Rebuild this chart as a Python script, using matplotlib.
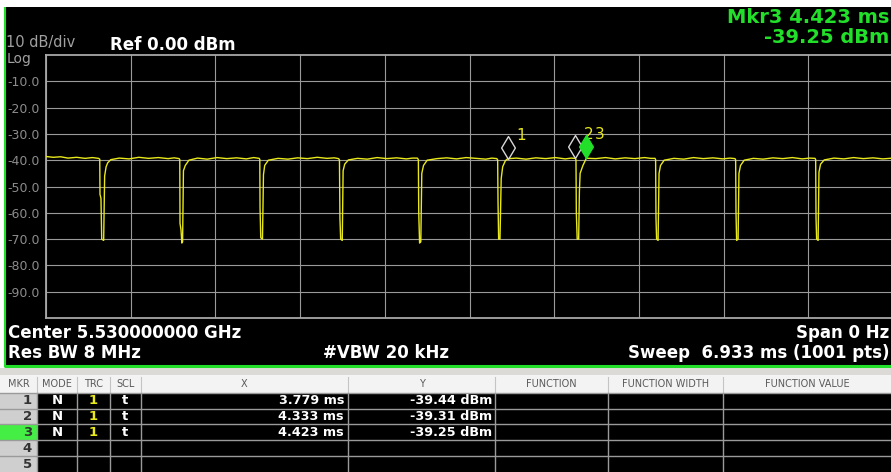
import matplotlib.pyplot as plt
from matplotlib.path import Path
import numpy as np

plt.rcParams["font.family"] = "DejaVu Sans"

W, H = 891, 472

# instrument settings
SWEEP_MS = 6.933
REF_DBM = 0.0
DB_PER_DIV = 10
N_DIV = 10
y_tick_values = [-10, -20, -30, -40, -50, -60, -70, -80, -90]

# trace 1, vertices (ms, dBm)
trace_ms = [
    0.000, 0.060, 0.120, 0.180, 0.250, 0.320, 0.380,
    0.430, 0.440, 0.442, 0.450, 0.456, 0.472, 0.480, 0.492, 0.505, 0.530,
    0.600, 0.680, 0.760, 0.840, 0.920, 1.000, 1.050,
    1.090, 1.095, 1.097, 1.105, 1.112, 1.118, 1.125, 1.140, 1.170,
    1.240, 1.320, 1.400, 1.480, 1.560, 1.640, 1.700,
    1.745, 1.750, 1.752, 1.758, 1.772, 1.780, 1.790, 1.820,
    1.900, 1.980, 2.060, 2.140, 2.220, 2.300, 2.360,
    2.395, 2.402, 2.406, 2.412, 2.425, 2.432, 2.445, 2.475,
    2.550, 2.630, 2.710, 2.790, 2.870, 2.950, 3.000,
    3.040, 3.048, 3.051, 3.058, 3.068, 3.076, 3.090, 3.120,
    3.200, 3.280, 3.360, 3.440, 3.520, 3.600, 3.650,
    3.690, 3.697, 3.700, 3.705, 3.716, 3.722, 3.726, 3.738, 3.760, 3.779,
    3.850, 3.930, 4.010, 4.090, 4.170, 4.250, 4.300,
    4.333, 4.338, 4.341, 4.348, 4.360, 4.366, 4.372, 4.395, 4.423,
    4.500, 4.580, 4.660, 4.740, 4.820, 4.900, 4.950,
    4.985, 4.990, 4.993, 4.998, 5.010, 5.018, 5.030, 5.060,
    5.140, 5.220, 5.300, 5.380, 5.460, 5.540, 5.600,
    5.640, 5.645, 5.648, 5.653, 5.665, 5.672, 5.685, 5.715,
    5.790, 5.870, 5.950, 6.030, 6.110, 6.190, 6.250,
    6.295, 6.300, 6.303, 6.308, 6.320, 6.327, 6.340, 6.370,
    6.450, 6.530, 6.610, 6.690, 6.770, 6.850, 6.933,
]
trace_dbm = [
    -38.6, -38.9, -38.7, -39.2, -38.9, -39.3, -39.0,
    -39.3, -39.6, -53.0, -54.5, -70.0, -70.5, -46.0, -42.5, -41.0, -39.8,
    -39.2, -39.5, -38.9, -39.3, -39.0, -39.4, -39.1,
    -39.4, -39.8, -64.0, -66.5, -71.5, -71.0, -44.0, -42.0, -40.0,
    -39.2, -39.6, -39.0, -39.4, -39.1, -39.5, -39.0,
    -39.3, -39.7, -58.0, -69.5, -70.0, -45.5, -42.0, -40.0,
    -39.3, -39.6, -39.1, -39.4, -38.9, -39.3, -39.1,
    -39.4, -39.9, -62.0, -70.0, -70.5, -44.0, -41.5, -39.9,
    -39.3, -39.6, -39.0, -39.4, -39.1, -39.5, -39.2,
    -39.2, -39.8, -60.0, -71.5, -71.0, -45.0, -42.0, -40.0,
    -39.4, -39.1, -39.5, -39.0, -39.3, -39.6, -39.2,
    -39.4, -39.9, -56.0, -70.0, -70.0, -55.0, -47.0, -42.5, -40.2, -39.44,
    -39.2, -39.6, -39.1, -39.4, -39.0, -39.5, -39.2,
    -39.31, -39.9, -60.0, -70.0, -70.0, -52.0, -45.0, -42.0, -39.25,
    -39.4, -39.0, -39.5, -39.1, -39.4, -39.0, -39.3,
    -39.3, -39.8, -62.0, -70.0, -70.5, -45.0, -42.0, -40.0,
    -39.3, -39.6, -39.0, -39.4, -39.1, -39.5, -39.2,
    -39.4, -39.9, -60.0, -70.5, -70.0, -45.0, -42.0, -40.0,
    -39.3, -39.6, -39.1, -39.4, -39.0, -39.5, -39.2,
    -39.3, -39.8, -62.0, -70.0, -70.5, -44.5, -41.5, -39.9,
    -39.2, -39.5, -39.0, -39.4, -39.1, -39.5, -39.2,
]

# markers
marker_ids = ["1", "2", "3"]
marker_ms = [3.779, 4.333, 4.423]
marker_dbm = [-39.44, -39.31, -39.25]
active_marker = 2

# marker table
table_columns = ["MKR", "MODE", "TRC", "SCL", "X", "Y",
                 "FUNCTION", "FUNCTION WIDTH", "FUNCTION VALUE"]
table_rows = ["1", "2", "3", "4", "5"]
table_mode = ["N", "N", "N"]
table_trc = ["1", "1", "1"]
table_scl = ["t", "t", "t"]

# layout in screen pixels
col_edges = [0, 37, 77, 110, 141, 348, 495, 608, 723, 891]
row_edges = [375, 393, 409, 424, 440, 456, 472]
GRID_L, GRID_T, GRID_W, GRID_H = 46, 55, 847, 263

TRACE_YELLOW = "#e8e81c"
MKR_GREEN = "#22e02a"
GRID_GRAY = "#9a9a9a"

fig = plt.figure(figsize=(W / 100, H / 100), dpi=100, facecolor="white")

# screen background, borders, annotations and table (pixel coordinates)
bg = fig.add_axes([0, 0, 1, 1])
bg.set_xlim(0, W)
bg.set_ylim(H, 0)
bg.axis("off")
bg.fill_between([4, W], 7, 367, color="black", lw=0)
bg.plot([5, 5], [7, 367], color=MKR_GREEN, lw=1.5, solid_capstyle="butt")
bg.plot([4, W], [365.8, 365.8], color=MKR_GREEN, lw=2.2, solid_capstyle="butt")

bg.text(6, 46.5, "10 dB/div", color="#a0a0a0", fontsize=10.5, ha="left", va="baseline")
bg.text(7, 63, "Log", color="#a0a0a0", fontsize=10, ha="left", va="baseline")
bg.text(110, 50, f"Ref {REF_DBM:.2f} dBm", color="white", fontsize=12, fontweight="bold",
        ha="left", va="baseline")
bg.text(889, 23, f"Mkr{marker_ids[active_marker]} {marker_ms[active_marker]:.3f} ms",
        color=MKR_GREEN, fontsize=14, fontweight="bold", ha="right", va="baseline")
bg.text(889, 43, f"{marker_dbm[active_marker]:.2f} dBm",
        color=MKR_GREEN, fontsize=14, fontweight="bold", ha="right", va="baseline")

bg.text(8, 338, "Center 5.530000000 GHz", color="white", fontsize=12, fontweight="bold",
        ha="left", va="baseline")
bg.text(8, 358, "Res BW 8 MHz", color="white", fontsize=12, fontweight="bold",
        ha="left", va="baseline")
bg.text(323, 358, "#VBW 20 kHz", color="white", fontsize=12, fontweight="bold",
        ha="left", va="baseline")
bg.text(889, 338, "Span 0 Hz", color="white", fontsize=12, fontweight="bold",
        ha="right", va="baseline")
bg.text(889, 358, f"Sweep  {SWEEP_MS:.3f} ms (1001 pts)", color="white", fontsize=12,
        fontweight="bold", ha="right", va="baseline")

# table
bg.fill_between([0, W], 368, row_edges[0], color="#dcdad6", lw=0)
bg.fill_between([0, W], row_edges[0], row_edges[1], color="#f3f3f3", lw=0)
bg.fill_between([0, W], row_edges[1], H, color="black", lw=0)
for i in range(len(table_rows)):
    cell_color = "#44ee44" if i == active_marker else "#cfcfcf"
    bg.fill_between([col_edges[0], col_edges[1]], row_edges[i + 1], row_edges[i + 2],
                    color=cell_color, lw=0)
for y in row_edges[1:-1]:
    bg.plot([0, W], [y, y], color="#9a9a9a", lw=1.0)
for x in col_edges[1:-1]:
    bg.plot([x, x], [row_edges[0] + 2, row_edges[1]], color="#c4c4c4", lw=0.8)
    bg.plot([x, x], [row_edges[1], H], color="#9a9a9a", lw=1.0)

header_y = (row_edges[0] + row_edges[1]) / 2
for j, name in enumerate(table_columns):
    cx = (col_edges[j] + col_edges[j + 1]) / 2
    bg.text(cx, header_y, name, color="#5a5a5a", fontsize=7, ha="center", va="center")

for i, num in enumerate(table_rows):
    cy = (row_edges[i + 1] + row_edges[i + 2]) / 2
    bg.text(32, cy, num, color="#333333", fontsize=9.5, fontweight="bold", ha="right", va="center")
for i in range(len(marker_ms)):
    cy = (row_edges[i + 1] + row_edges[i + 2]) / 2
    bg.text((col_edges[1] + col_edges[2]) / 2, cy, table_mode[i], color="white",
            fontsize=9.5, fontweight="bold", ha="center", va="center")
    bg.text((col_edges[2] + col_edges[3]) / 2, cy, table_trc[i], color=TRACE_YELLOW,
            fontsize=9.5, fontweight="bold", ha="center", va="center")
    bg.text((col_edges[3] + col_edges[4]) / 2, cy, table_scl[i], color="white",
            fontsize=9.5, fontweight="bold", ha="center", va="center")
    bg.text(col_edges[5] - 4, cy, f"{marker_ms[i]:.3f} ms", color="white",
            fontsize=9.2, fontweight="bold", ha="right", va="center")
    bg.text(col_edges[6] - 3, cy, f"{marker_dbm[i]:.2f} dBm", color="white",
            fontsize=9.2, fontweight="bold", ha="right", va="center")

# graticule and trace
ax = fig.add_axes([GRID_L / W, (H - GRID_T - GRID_H) / H, GRID_W / W, GRID_H / H])
ax.set_facecolor("black")
ax.set_xlim(0, SWEEP_MS)
ax.set_ylim(REF_DBM - N_DIV * DB_PER_DIV, REF_DBM)
ax.set_xticks(np.linspace(0, SWEEP_MS, N_DIV + 1))
ax.set_xticklabels([])
ax.set_yticks(y_tick_values)
ax.set_yticklabels([f"{v:.1f}" for v in y_tick_values])
ax.tick_params(length=0, pad=4.5, labelsize=9, labelcolor="#8c8c8c")
ax.grid(True, color=GRID_GRAY, lw=0.8)
for side in ax.spines.values():
    side.set_color("#a8a8a8")
    side.set_linewidth(1.3)

ax.plot(trace_ms, trace_dbm, color=TRACE_YELLOW, lw=1.0, zorder=3)

diamond = Path([(0, 0), (0.3, 0.5), (0, 1), (-0.3, 0.5), (0, 0)],
               [Path.MOVETO, Path.LINETO, Path.LINETO, Path.LINETO, Path.CLOSEPOLY])
for i, (t, lvl) in enumerate(zip(marker_ms, marker_dbm)):
    ax.annotate(marker_ids[i], (t, lvl), xytext=(9.5, 17), textcoords="offset points",
                color=TRACE_YELLOW, fontsize=11, ha="center", va="center",
                annotation_clip=False, zorder=4)
    if i == active_marker:
        ax.plot([t], [lvl], marker=diamond, ms=33, color=MKR_GREEN, mec=MKR_GREEN,
                mew=1, ls="none", zorder=5, clip_on=False)
    else:
        ax.plot([t], [lvl], marker=diamond, ms=33, mfc="none", mec="#d8d8d8",
                mew=1, ls="none", zorder=5, clip_on=False)

fig.savefig("out.png", dpi=100, facecolor="white")
